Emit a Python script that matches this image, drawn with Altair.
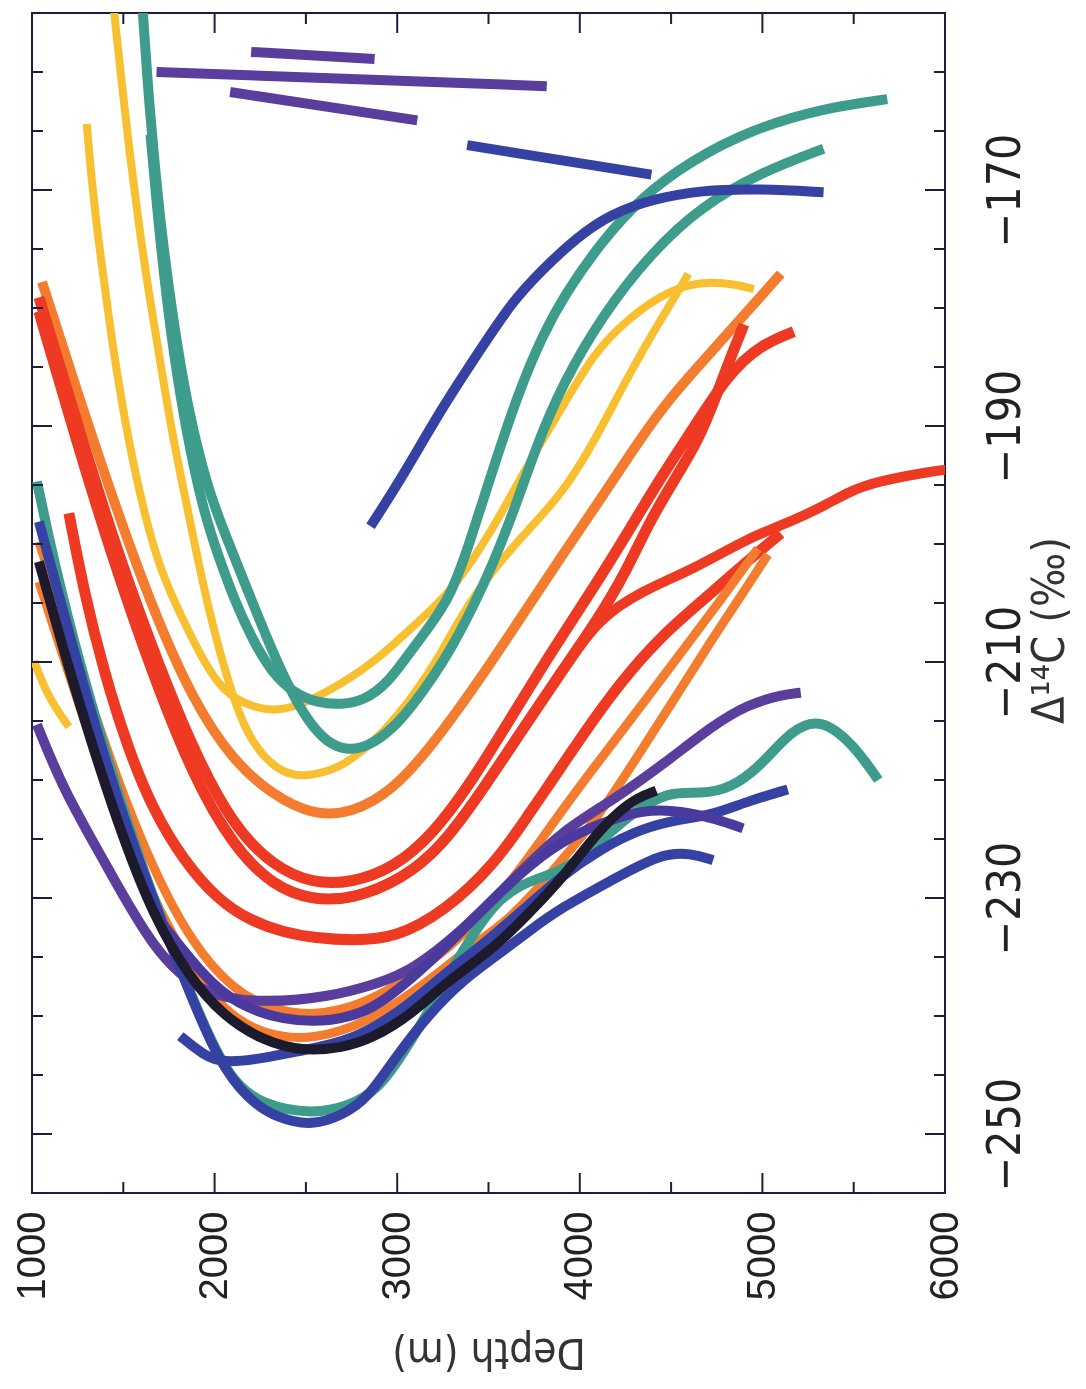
import altair as alt
import pandas as pd

# ---------------- data: each profile = depth (m) + Delta14C (permil) ----------------
T1_DEPTH = [1649,1682,1720,1774,1845,1938,2020,2112,2211,2309,2429,2565,2701,2810,2947,3099,3285,3399,3519,3656,3792,3928,4119,4337,4610,4937,5319,5684]
T1_D14C = [-165.3,-171.0,-176.9,-183.7,-190.5,-197.2,-201.0,-204.9,-208.2,-210.8,-212.6,-213.5,-213.6,-213.3,-211.9,-208.5,-204.9,-199.8,-193.9,-187.5,-182.4,-178.6,-174.4,-170.6,-167.5,-164.9,-163.1,-162.3]

T2_DEPTH = [1605,1633,1665,1709,1774,1856,1965,2074,2183,2292,2401,2510,2620,2729,2838,2974,3083,3192,3301,3410,3519,3639,3765,3901,4119,4392,4664,4992,5335]
T2_D14C = [-154.5,-160.9,-166.8,-173.6,-181.2,-188.8,-195.5,-199.8,-204.0,-208.2,-212.0,-215.0,-216.9,-217.5,-217.2,-215.7,-213.7,-211.4,-208.7,-205.5,-201.9,-197.2,-191.6,-186.6,-180.7,-175.3,-171.4,-168.5,-166.5]

U1_DEPTH = [1300,1327,1365,1409,1463,1529,1611,1703,1829,1938,2047,2194,2347,2510,2701,2892,3099,3301,3519,3710,3901,4081,4266,4446,4594,4719,4855,4953]
U1_D14C = [-164.4,-169.3,-174.4,-179.5,-185.4,-191.3,-197.2,-202.3,-206.5,-209.9,-212.5,-213.8,-214.2,-213.4,-211.8,-209.8,-206.8,-204.0,-198.9,-193.4,-188.5,-183.7,-180.9,-178.9,-178.0,-177.8,-178.0,-178.4]

U2_DEPTH = [1447,1491,1534,1583,1638,1703,1774,1867,1954,2101,2211,2347,2467,2647,2756,2919,3099,3247,3356,3519,3710,3901,4081,4266,4446,4539,4594]
U2_D14C = [-154.5,-160.9,-166.8,-172.7,-178.6,-184.6,-191.3,-198.1,-204.9,-213.3,-217.1,-219.2,-219.8,-219.2,-218.2,-216.1,-212.7,-209.1,-205.9,-202.3,-198.9,-195.8,-191.3,-185.7,-180.9,-178.6,-177.1]

Y3_DEPTH = [1011,1076,1147,1202]
Y3_D14C = [-209.9,-212.5,-214.3,-215.5]

BL_DEPTH = [2854,3029,3247,3465,3628,3792,3983,4174,4392,4664,4992,5335]
BL_D14C = [-198.5,-194.3,-188.4,-183.3,-179.5,-176.8,-174.0,-172.0,-170.8,-170.0,-169.9,-170.2]

P1_DEPTH = [1682,3819]
P1_D14C = [-160.0,-161.2]
P2_DEPTH = [2200,2876]
P2_D14C = [-158.3,-158.9]
P3_DEPTH = [2085,3110]
P3_D14C = [-161.7,-164.1]
B1_DEPTH = [3383,4392]
B1_D14C = [-166.2,-168.7]

O1_DEPTH = [1055,1229,1447,1665,1883,2101,2320,2538,2756,2974,3192,3465,3683,3901,4119,4321,4501,4664,4899,5101]
O1_D14C = [-177.8,-186.2,-196.4,-205.7,-213.3,-218.4,-221.3,-223.0,-222.8,-220.9,-217.1,-211.2,-206.1,-201.0,-196.1,-191.3,-187.5,-184.7,-180.6,-177.1]

R2_DEPTH = [1038,1229,1447,1665,1883,2101,2320,2538,2756,2974,3192,3410,3628,3846,4081,4283,4446,4626,4812,4992,5172]
R2_D14C = [-179.1,-188.8,-199.8,-209.1,-217.5,-223.9,-227.3,-228.8,-228.7,-227.5,-224.7,-220.1,-214.6,-209.1,-203.6,-198.5,-194.3,-190.1,-185.6,-183.1,-182.0]

R1_DEPTH = [1038,1229,1447,1665,1883,2101,2320,2538,2756,3029,3247,3465,3683,3901,4103,4255,4375,4512,4648,4746,4828,4899]
R1_D14C = [-180.3,-190.5,-201.5,-211.2,-219.7,-225.6,-229.0,-230.2,-230.1,-228.4,-225.6,-220.9,-215.8,-210.8,-206.3,-202.3,-198.3,-194.7,-191.3,-187.5,-184.1,-181.4]

R5_DEPTH = [1038,1229,1447,1665,1883,2101,2320,2538,2756,3029,3247,3465,3683,3901,4103,4337,4626,4921,5155,5335,5482,5630,5902,6055]
R5_D14C = [-180.3,-190.5,-201.5,-211.2,-219.7,-225.6,-229.0,-230.2,-230.1,-228.4,-225.6,-220.9,-215.8,-210.8,-206.3,-204.0,-202.1,-199.5,-198.1,-196.8,-195.5,-194.7,-193.9,-193.6]

RD_DEPTH = [1202,1284,1393,1529,1665,1829,2020,2194,2374,2554,2756,2990,3263,3536,3721,3846,4010,4228,4446,4664,4883,5101]
RD_D14C = [-197.4,-204.0,-210.8,-217.5,-222.6,-226.8,-230.2,-231.9,-232.9,-233.4,-233.6,-233.4,-231.1,-227.1,-222.9,-220.1,-216.3,-211.6,-207.8,-204.9,-201.9,-199.1]

OF_DEPTH = [1038,1229,1447,1665,1883,2101,2320,2538,2810,3083,3301,3465,3628,3792,3939,4119,4337,4555,4774,4975]
OF_D14C = [-199.8,-209.1,-219.2,-227.7,-234.0,-237.8,-239.5,-240.0,-239.1,-236.6,-234.0,-231.5,-228.5,-225.0,-221.8,-218.1,-213.7,-209.2,-204.7,-200.4]

OG_DEPTH = [1038,1284,1518,1774,2031,2265,2538,2865,3176,3410,3574,3737,3901,4037,4157,4337,4528,4719,4883,5030]
OG_D14C = [-203.2,-215.0,-225.1,-233.6,-239.5,-241.6,-242.1,-240.4,-237.0,-234.0,-232.3,-229.8,-226.8,-224.3,-221.8,-217.5,-212.9,-208.2,-204.4,-200.9]

PU_DEPTH = [1027,1174,1393,1665,1938,2265,2630,2903,3083,3356,3628,3901,4174,4463,4735,4921,5101,5210]
PU_D14C = [-215.3,-220.9,-226.8,-234.5,-238.3,-238.9,-238.4,-237.2,-236.1,-232.8,-228.5,-224.3,-221.8,-218.6,-215.3,-213.6,-212.8,-212.6]

BK_DEPTH = [1038,1174,1338,1502,1665,1856,2047,2265,2483,2701,2865,3083,3263,3536,3721,3901,4081,4266,4419]
BK_D14C = [-201.5,-209.1,-217.5,-225.1,-231.5,-236.6,-240.0,-242.1,-243.0,-242.7,-241.9,-239.8,-237.2,-234.2,-231.3,-228.4,-224.7,-221.8,-220.9]

TW_DEPTH = [1027,1120,1256,1447,1665,1883,2074,2265,2538,2729,2892,3029,3192,3356,3536,3721,3901,4081,4266,4484,4664,4828,4992,5155,5319,5499,5635]
TW_D14C = [-194.7,-201.5,-209.9,-220.1,-230.2,-238.7,-245.4,-247.6,-248.3,-247.7,-246.3,-243.3,-239.1,-234.5,-230.2,-228.5,-227.8,-225.7,-223.0,-220.9,-221.2,-220.7,-218.8,-215.8,-214.7,-217.0,-220.0]

BU_DEPTH = [1038,1229,1447,1665,1856,2020,2183,2347,2538,2701,2838,2990,3176,3356,3536,3721,3901,4174,4446,4610,4730]
BU_D14C = [-198.1,-209.1,-220.9,-230.2,-237.8,-243.8,-247.1,-248.7,-249.3,-248.4,-247.0,-243.5,-239.8,-237.0,-235.0,-232.8,-230.8,-228.5,-226.2,-226.2,-226.8]

BS_DEPTH = [1812,1938,2047,2265,2483,2756,3029,3247,3465,3683,3901,4119,4337,4555,4719,4921,5139]
BS_D14C = [-241.7,-243.3,-244.0,-243.6,-242.9,-242.1,-239.5,-236.6,-234.0,-231.1,-228.1,-225.8,-224.1,-223.3,-223.0,-221.8,-220.8]

BV_DEPTH = [1720,1938,2118,2374,2647,2865,3083,3301,3519,3737,3956,4174,4392,4610,4746,4894]
BV_D14C = [-232.3,-236.6,-239.0,-240.4,-240.5,-239.5,-236.8,-233.6,-230.2,-227.0,-224.7,-223.3,-222.4,-222.8,-223.3,-224.1]

# axis ticks / labels
DEPTH_LABELS = [1000, 2000, 3000, 4000, 5000, 6000]
DEPTH_MAJOR_TICKS = [2000, 3000, 4000, 5000]
DEPTH_MINOR_TICKS = [1500, 2500, 3500, 4500, 5500]
D14C_LABELS = [-250, -230, -210, -190, -170]
D14C_MINOR_TICKS = [-245, -240, -235, -225, -220, -215, -205, -200, -195, -185, -180, -175, -165, -160]

# ---------------- styles ----------------
TEAL = "#3e9c8c"
YELLOW = "#f8c030"
ORANGE = "#f47c2e"
RED = "#ee3a22"
BLUE = "#3542a3"
PURPLE = "#5a3e9e"
VIOLET = "#4b3a9e"
BLACK = "#1d1b2b"
INK = "#1e1e3c"

SERIES = [
    (U1_DEPTH, U1_D14C, YELLOW, 8),
    (U2_DEPTH, U2_D14C, YELLOW, 8),
    (Y3_DEPTH, Y3_D14C, YELLOW, 8),
    (T1_DEPTH, T1_D14C, TEAL, 10),
    (T2_DEPTH, T2_D14C, TEAL, 10),
    (BL_DEPTH, BL_D14C, BLUE, 10),
    (P1_DEPTH, P1_D14C, PURPLE, 10),
    (P2_DEPTH, P2_D14C, PURPLE, 10),
    (P3_DEPTH, P3_D14C, PURPLE, 10),
    (B1_DEPTH, B1_D14C, BLUE, 10),
    (O1_DEPTH, O1_D14C, ORANGE, 10),
    (R2_DEPTH, R2_D14C, RED, 11),
    (R1_DEPTH, R1_D14C, RED, 11),
    (R5_DEPTH, R5_D14C, RED, 10),
    (RD_DEPTH, RD_D14C, RED, 11),
    (OF_DEPTH, OF_D14C, ORANGE, 9),
    (OG_DEPTH, OG_D14C, ORANGE, 9),
    (TW_DEPTH, TW_D14C, TEAL, 10),
    (PU_DEPTH, PU_D14C, PURPLE, 10),
    (BU_DEPTH, BU_D14C, BLUE, 10),
    (BS_DEPTH, BS_D14C, BLUE, 10),
    (BV_DEPTH, BV_D14C, VIOLET, 10),
    (BK_DEPTH, BK_D14C, BLACK, 10),
]

W, H = 913, 1180
NARROW = "Liberation Sans Narrow, DejaVu Sans Condensed, Liberation Sans"

xscale = alt.Scale(domain=[1000, 6000], nice=False, zero=False)
yscale = alt.Scale(domain=[-255, -155], nice=False, zero=False)

x_axis = alt.Axis(
    orient="bottom", values=DEPTH_LABELS, format="d", labelAngle=270, labelAlign="right",
    labelBaseline="middle", labelFont="Liberation Sans", labelFontSize=40,
    labelColor="#222222", labelPadding=18, labelFlush=False, labelOverlap=False,
    ticks=False, tickSize=0, domain=False, grid=False,
    title="Depth (m)", titleAngle=180, titleFont=NARROW, titleFontSize=42,
    titleFontWeight="normal", titleColor="#333333", titleX=W / 2, titleY=158,
    titleAlign="center", titleBaseline="middle",
)
y_axis = alt.Axis(
    orient="right", values=D14C_LABELS, labelAngle=270, labelAlign="center",
    labelBaseline="top", labelFont=NARROW, labelFontSize=46, labelColor="#222222",
    labelPadding=38, labelFlush=False, labelOverlap=False,
    ticks=False, tickSize=0, domain=False, grid=False,
    title="Δ¹⁴C (‰)", titleAngle=270, titleFont=NARROW, titleFontSize=45,
    titleFontWeight="normal", titleColor="#333333", titleX=104, titleY=617,
    titleAlign="center", titleBaseline="middle",
)

X_ENC = alt.X("depth:Q", scale=xscale, axis=x_axis)
Y_ENC = alt.Y("d14c:Q", scale=yscale, axis=y_axis)

layers = []
for dep, val, col, w in SERIES:
    df = pd.DataFrame({"depth": dep, "d14c": val})
    layers.append(
        alt.Chart(df).mark_line(
            clip=True, interpolate="basis", color=col, strokeWidth=w,
            strokeCap="butt", blend="multiply",
        ).encode(x=X_ENC, y=Y_ENC)
    )

def depth_ticks(vals, y0, y1):
    return alt.Chart(pd.DataFrame({"depth": vals})).mark_rule(color=INK, strokeWidth=2).encode(
        x=X_ENC, y=alt.value(y0), y2=alt.value(y1),
    )

def d14c_ticks(vals, x0, x1):
    return alt.Chart(pd.DataFrame({"d14c": vals})).mark_rule(color=INK, strokeWidth=2).encode(
        y=Y_ENC, x=alt.value(x0), x2=alt.value(x1),
    )

tick_layers = [
    depth_ticks(DEPTH_MAJOR_TICKS, H, H - 20),
    depth_ticks(DEPTH_MINOR_TICKS, H, H - 11),
    depth_ticks(DEPTH_MAJOR_TICKS, 0, 20),
    depth_ticks(DEPTH_MINOR_TICKS, 0, 11),
    d14c_ticks(D14C_LABELS, 0, 20),
    d14c_ticks(D14C_MINOR_TICKS, 0, 11),
    d14c_ticks(D14C_LABELS, W, W - 20),
    d14c_ticks(D14C_MINOR_TICKS, W, W - 11),
]

chart = alt.layer(*layers, *tick_layers).properties(
    width=W, height=H,
    padding={"left": 24, "top": 5, "right": 130, "bottom": 185},
    autosize=alt.AutoSizeParams(type="none"),
    background="white",
).configure_view(stroke=INK, strokeWidth=2)

chart.save("out.html", embed_options={"renderer": "svg", "actions": False})
